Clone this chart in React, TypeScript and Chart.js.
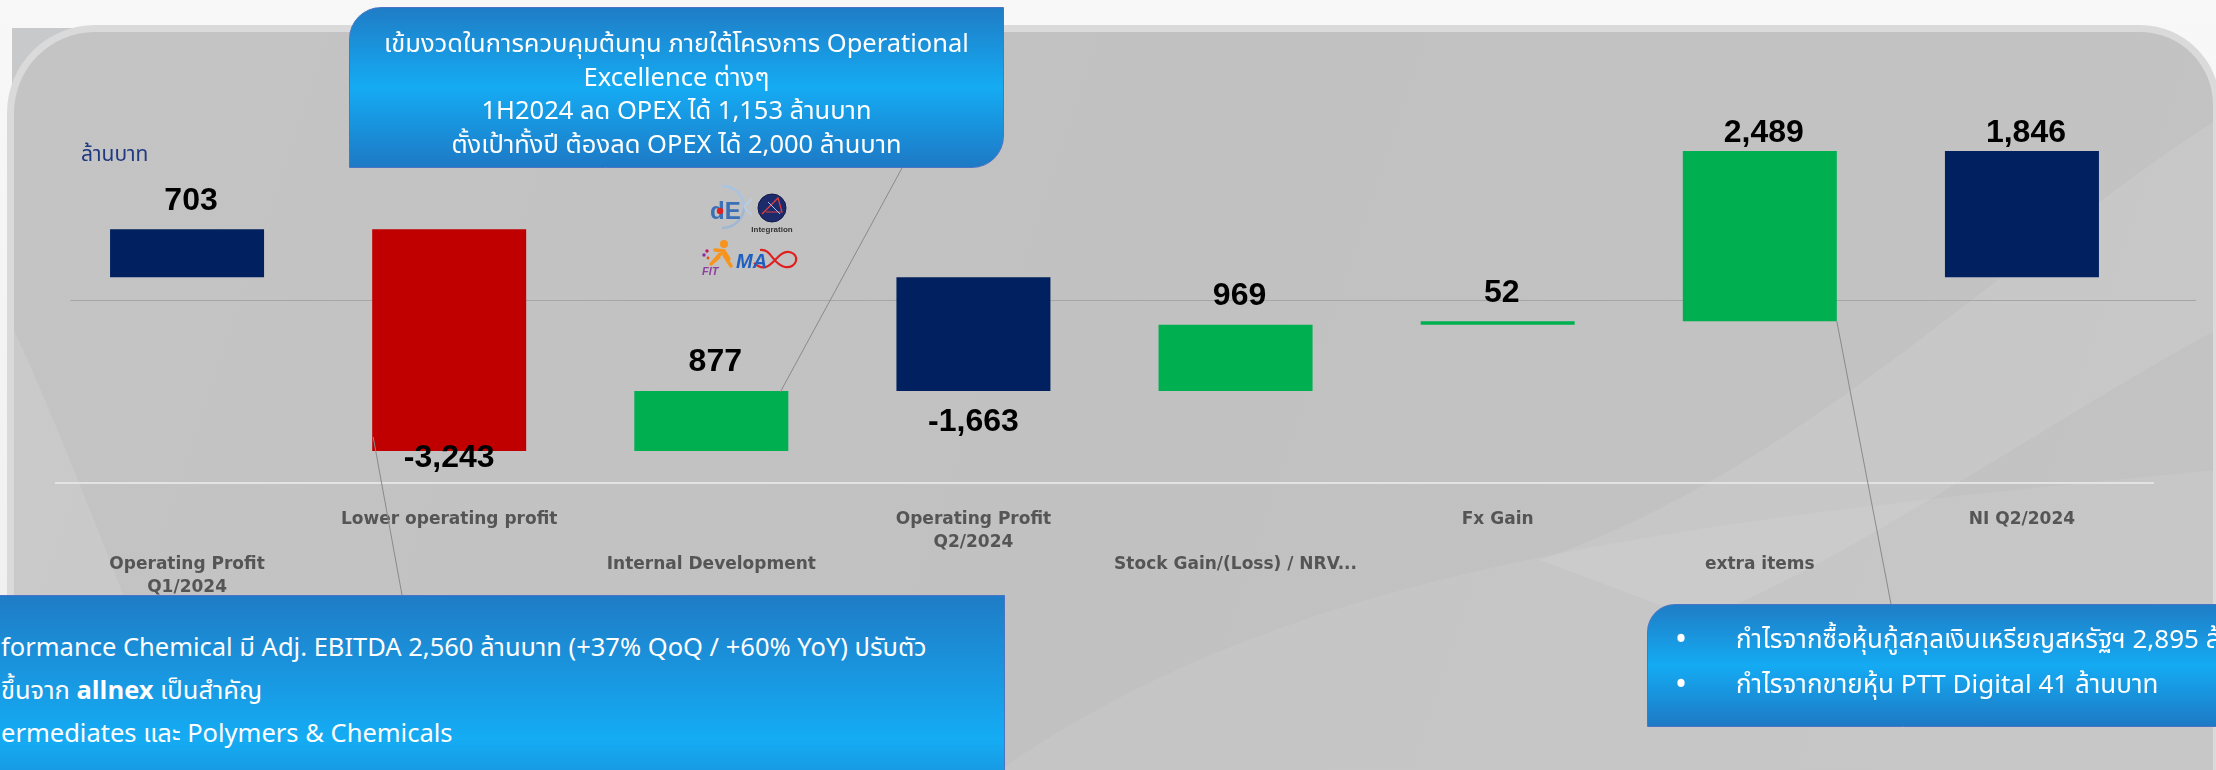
import React, { useEffect, useRef } from "react";
import { Chart, registerables } from "chart.js";

Chart.register(...registerables);

// ---------------- data ----------------
const categories: (string | string[])[] = [
  ["Operating Profit", "Q1/2024"],
  "Lower operating profit",
  "Internal Development",
  ["Operating Profit", "Q2/2024"],
  "Stock Gain/(Loss) / NRV...",
  "Fx Gain",
  "extra items",
  "NI Q2/2024",
];
const stepValues = [703, -3243, 877, -1663, 969, 52, 2489, 1846];
const isTotal = [true, false, false, true, false, false, false, true];
const yMin = -3000;
const yMax = 3000;
const unitLabel = "ล้านบาท";

const topNote = [
  "เข้มงวดในการควบคุมต้นทุน ภายใต้โครงการ Operational",
  "Excellence ต่างๆ",
  "1H2024 ลด OPEX ได้ 1,153 ล้านบาท",
  "ตั้งเป้าทั้งปี ต้องลด OPEX ได้ 2,000 ล้านบาท",
];
const rightNote = [
  "กำไรจากซื้อหุ้นกู้สกุลเงินเหรียญสหรัฐฯ 2,895 ล้านบาท",
  "กำไรจากขายหุ้น PTT Digital 41 ล้านบาท",
];

// ---------------- styles ----------------
const NAVY = "#002060";
const RED = "#c00000";
const GREEN = "#00b050";
const labelGap = [28, 7, 29, 31, 29, 28.5, 18, 18];
const THAI = '"Noto Sans Thai", "Noto Sans Thai UI", "Noto Sans", "DejaVu Sans", sans-serif';

// waterfall ranges built from the step values
const ranges: [number, number][] = (() => {
  let run = 0;
  return stepValues.map((v, i) => {
    if (isTotal[i]) {
      run = v;
      return [0, v] as [number, number];
    }
    const s = run;
    run += v;
    return [s, run] as [number, number];
  });
})();
const barColors = stepValues.map((v, i) => (isTotal[i] ? NAVY : v < 0 ? RED : GREEN));
const tickLabels = categories.map((c, i) => {
  const lines = Array.isArray(c) ? c : [c];
  return i % 2 === 0 ? ["", "", ...lines] : lines;
});

function roundedPanel(ctx: CanvasRenderingContext2D, x: number, y: number, w: number, h: number, rtl: number, rtr: number) {
  ctx.beginPath();
  ctx.moveTo(x + rtl, y);
  ctx.lineTo(x + w - rtr, y);
  ctx.arcTo(x + w, y, x + w, y + rtr, rtr);
  ctx.lineTo(x + w, y + h);
  ctx.lineTo(x, y + h);
  ctx.lineTo(x, y + rtl);
  ctx.arcTo(x, y, x + rtl, y, rtl);
  ctx.closePath();
}

const backgroundPlugin = {
  id: "slideBackground",
  beforeDraw(chart: any) {
    const ctx: CanvasRenderingContext2D = chart.ctx;
    const W = chart.width;
    const H = chart.height;
    ctx.save();
    const g0 = ctx.createLinearGradient(0, 0, 0, H);
    g0.addColorStop(0, "#f8f8f8");
    g0.addColorStop(1, "#eeeeee");
    ctx.fillStyle = g0;
    ctx.fillRect(0, 0, W, H);
    ctx.fillStyle = "#c8c9ca";
    ctx.fillRect(12, 28, 200, H);
    // outer light border of the panel
    roundedPanel(ctx, 7, 25, 2220 - 7, H + 100, 88, 80);
    ctx.fillStyle = "#dadada";
    ctx.fill();
    // inner panel
    roundedPanel(ctx, 14, 32, 2220 - 7 - 14, H + 100, 81, 73);
    const g1 = ctx.createLinearGradient(0, 32, W, H);
    g1.addColorStop(0, "#c4c4c4");
    g1.addColorStop(0.5, "#c1c1c1");
    g1.addColorStop(1, "#c3c3c3");
    ctx.fillStyle = g1;
    ctx.fill();
    ctx.save();
    ctx.clip();
    // soft swooshes
    ctx.fillStyle = "rgba(255,255,255,0.10)";
    ctx.beginPath();
    ctx.moveTo(14, 330);
    ctx.quadraticCurveTo(70, 450, 190, H);
    ctx.lineTo(14, H);
    ctx.closePath();
    ctx.fill();
    ctx.fillStyle = "rgba(255,255,255,0.09)";
    ctx.beginPath();
    ctx.moveTo(1540, 560);
    ctx.bezierCurveTo(1800, 470, 2000, 260, 2216, 120);
    ctx.lineTo(2216, 330);
    ctx.bezierCurveTo(2050, 420, 1850, 560, 1700, 620);
    ctx.closePath();
    ctx.fill();
    ctx.fillStyle = "rgba(255,255,255,0.07)";
    ctx.beginPath();
    ctx.moveTo(1000, H);
    ctx.bezierCurveTo(1300, 560, 1700, 520, 2216, 470);
    ctx.lineTo(2216, H);
    ctx.closePath();
    ctx.fill();
    ctx.restore();
    // decorative divider line
    ctx.strokeStyle = "#a6a6a6";
    ctx.lineWidth = 1;
    ctx.beginPath();
    ctx.moveTo(70, 300.5);
    ctx.lineTo(2196, 300.5);
    ctx.stroke();
    ctx.restore();
  },
};

const valueLabelPlugin = {
  id: "waterfallLabels",
  afterDatasetsDraw(chart: any) {
    const ctx: CanvasRenderingContext2D = chart.ctx;
    const meta = chart.getDatasetMeta(0);
    ctx.save();
    ctx.font = 'bold 32px "Liberation Sans", Arial, sans-serif';
    ctx.fillStyle = "#000000";
    ctx.textAlign = "center";
    ctx.textBaseline = "middle";
    meta.data.forEach((bar: any, i: number) => {
      const v = stepValues[i];
      const top = Math.min(bar.y, bar.base);
      const bottom = Math.max(bar.y, bar.base);
      const y = v >= 0 ? top - labelGap[i] : bottom + labelGap[i];
      const x = bar.x + (v >= 0 ? 4 : 0);
      ctx.fillText(v.toLocaleString("en-US"), x, y);
    });
    ctx.restore();
  },
};

const connectorPlugin = {
  id: "connectors",
  afterDraw(chart: any) {
    const ctx: CanvasRenderingContext2D = chart.ctx;
    const bars = chart.getDatasetMeta(0).data;
    const edge = (b: any) => ({
      left: b.x - b.width / 2,
      right: b.x + b.width / 2,
      top: Math.min(b.y, b.base),
      bottom: Math.max(b.y, b.base),
    });
    const b3 = edge(bars[2]);
    const b2 = edge(bars[1]);
    const b7 = edge(bars[6]);
    ctx.save();
    ctx.strokeStyle = "#8a8a8a";
    ctx.lineWidth = 1;
    ctx.beginPath();
    ctx.moveTo(902, 168);
    ctx.lineTo(b3.right - 8, b3.top + 1);
    ctx.moveTo(b2.left + 1, b2.bottom - 14);
    ctx.lineTo(402, 595);
    ctx.moveTo(b7.right, b7.bottom);
    ctx.lineTo(1891, 604);
    ctx.stroke();
    ctx.restore();
  },
};

function Logos() {
  return (
    <svg width={120} height={100} style={{ position: "absolute", left: 695, top: 180 }} viewBox="695 180 120 100">
      <path d="M 722 186 A 22 21 0 0 1 744 207" stroke="#a8c4e0" strokeWidth={2.5} fill="none" />
      <path d="M 744 207 A 22 21 0 0 1 722 228" stroke="#9fb8d4" strokeWidth={2.5} fill="none" />
      <path d="M 744 207 L 752 199 M 744 207 L 752 215" stroke="#b8cce0" strokeWidth={2} fill="none" />
      <text x={710} y={219} fontFamily="Liberation Sans, Arial" fontWeight="bold" fontSize={24} fill="#3b6fb6">dE</text>
      <circle cx={720} cy={211} r={3.2} fill="#d22" />
      <circle cx={772} cy={208} r={14} fill="#1d2b6b" stroke="#0f1a4a" strokeWidth={1} />
      <path d="M 762 214 L 778 198 L 782 212 L 766 212" stroke="#e04040" strokeWidth={1.2} fill="none" />
      <path d="M 768 202 L 780 214" stroke="#9fc2ff" strokeWidth={1} fill="none" />
      <text x={772} y={232} fontFamily="Liberation Sans, Arial" fontWeight="bold" fontSize={8} fill="#333" textAnchor="middle">Integration</text>
      <circle cx={724} cy={244} r={4} fill="#f7941d" />
      <path d="M 715 250 L 724 251 L 729 259 M 722 252 L 713 262 M 724 255 L 731 266 M 719 257 L 711 264" stroke="#f7941d" strokeWidth={3.5} fill="none" strokeLinecap="round" />
      <circle cx={707} cy={251} r={1.7} fill="#c2185b" />
      <circle cx={704} cy={255} r={1.7} fill="#8e24aa" />
      <circle cx={708} cy={258} r={1.4} fill="#e65100" />
      <text x={702} y={275} fontFamily="Liberation Sans, Arial" fontWeight="bold" fontStyle="italic" fontSize={11} fill="#8e3fa0">FIT</text>
      <path d="M 754 263 C 770 278, 776 250, 789 252 C 801 254, 797 269, 785 267 C 773 265, 771 248, 760 250" stroke="#e02020" strokeWidth={2.2} fill="none" />
      <text x={736} y={268} fontFamily="Liberation Sans, Arial" fontWeight="bold" fontStyle="italic" fontSize={20} fill="#1f5fc0">MA</text>
    </svg>
  );
}

export default function App() {
  const ref = useRef<HTMLCanvasElement>(null);

  useEffect(() => {
    const canvas = ref.current;
    if (!canvas) return;
    const chart = new Chart(canvas, {
      type: "bar",
      data: {
        labels: tickLabels,
        datasets: [
          {
            data: ranges as any,
            backgroundColor: barColors,
            borderWidth: 0,
            barPercentage: 0.5875,
            categoryPercentage: 1,
          },
        ],
      },
      options: {
        responsive: false,
        animation: false,
        devicePixelRatio: 1,
        layout: { padding: { left: 56, right: 63, top: 72, bottom: 167.5 } },
        plugins: {
          legend: { display: false },
          tooltip: { enabled: false },
        },
        scales: {
          x: {
            grid: { display: false },
            border: { display: true, color: "#e3e3e3", width: 2 },
            ticks: {
              autoSkip: false,
              maxRotation: 0,
              minRotation: 0,
              padding: 18,
              color: "#555555",
              font: { family: '"DejaVu Sans", Verdana, sans-serif', size: 17, weight: "bold", lineHeight: "22.5px" },
            },
            afterFit: (scale: any) => {
              scale.height = 120;
            },
          },
          y: {
            display: false,
            min: yMin,
            max: yMax,
          },
        },
      },
      plugins: [backgroundPlugin, valueLabelPlugin, connectorPlugin],
    });
    return () => chart.destroy();
  }, []);

  const boxGradient = "linear-gradient(180deg, #1f7dc6 0%, #14abf3 50%, #1e79c5 100%)";

  return (
    <div style={{ position: "absolute", left: 0, top: 0, width: 2216, height: 770, overflow: "hidden" }}>
      <canvas ref={ref} width={2216} height={770} style={{ position: "absolute", left: 0, top: 0, width: 2216, height: 770 }} />
      <div
        style={{
          position: "absolute", left: 81, top: 141, color: "#1f3a80", fontFamily: THAI, fontSize: 21,
          lineHeight: "28px", whiteSpace: "nowrap",
        }}
      >
        {unitLabel}
      </div>
      <Logos />
      {/* top callout */}
      <div
        style={{
          position: "absolute", left: 349, top: 7, width: 655, height: 161, boxSizing: "border-box",
          borderRadius: "32px 0 32px 0", background: boxGradient, border: "1.5px solid #4a74c4",
          color: "#ffffff", fontFamily: THAI, fontSize: 25.5, lineHeight: "33.5px", textAlign: "center",
          paddingTop: 20, whiteSpace: "nowrap",
        }}
      >
        {topNote.map((t, i) => (
          <div key={i}>{t}</div>
        ))}
      </div>
      {/* bottom-left callout */}
      <div
        style={{
          position: "absolute", left: -2, top: 595, width: 1007, height: 240, boxSizing: "border-box",
          background: "linear-gradient(180deg, #1f7cc6 0%, #14acf4 60%, #1e79c5 100%)",
          border: "1.5px solid #4a74c4", color: "#ffffff", fontFamily: THAI, fontSize: 25.5,
          lineHeight: "43px", paddingTop: 31, paddingLeft: 2, whiteSpace: "nowrap",
        }}
      >
        <div>formance Chemical มี Adj. EBITDA 2,560 ล้านบาท (+37% QoQ / +60% YoY) ปรับตัว</div>
        <div>
          ขึ้นจาก <b>allnex</b> เป็นสำคัญ
        </div>
        <div>ermediates และ Polymers &amp; Chemicals</div>
      </div>
      {/* bottom-right callout */}
      <div
        style={{
          position: "absolute", left: 1647, top: 604, width: 620, height: 123, boxSizing: "border-box",
          borderRadius: "28px 0 0 0", background: boxGradient, border: "1.5px solid #4a74c4",
          color: "#ffffff", fontFamily: THAI, fontSize: 26, lineHeight: "45px", paddingTop: 13,
          whiteSpace: "nowrap",
        }}
      >
        {rightNote.map((t, i) => (
          <div key={i} style={{ position: "relative", paddingLeft: 88 }}>
            <span style={{ position: "absolute", left: 27, fontSize: 32 }}>•</span>
            {t}
          </div>
        ))}
      </div>
    </div>
  );
}
